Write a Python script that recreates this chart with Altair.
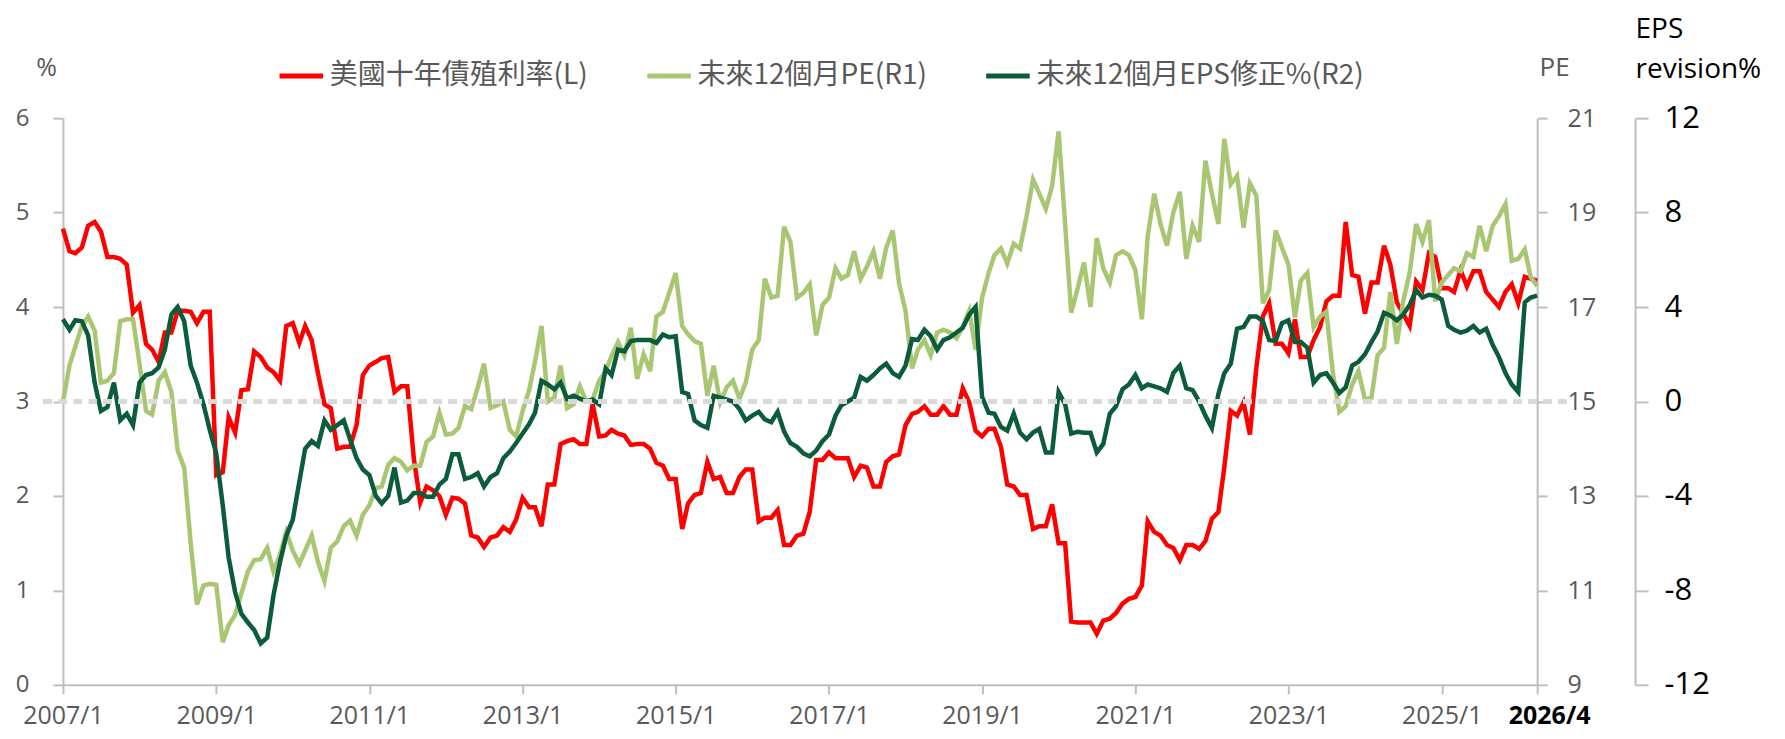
import altair as alt
import pandas as pd

# ---------------- data (monthly, 2007/1 .. 2026/4) ----------------
months = pd.date_range("2007-01-01", periods=232, freq="MS")

# US 10Y Treasury yield (%), left axis
yield_10y = [
    4.83, 4.59, 4.57, 4.63, 4.86, 4.90, 4.80, 4.53, 4.53, 4.51, 4.45, 3.94,
    4.02, 3.61, 3.55, 3.42, 3.73, 3.73, 3.96, 3.96, 3.95, 3.83, 3.95, 3.95,
    2.22, 2.25, 2.83, 2.67, 3.12, 3.13, 3.53, 3.47, 3.36, 3.31, 3.22, 3.80,
    3.83, 3.62, 3.80, 3.65, 3.30, 2.97, 2.93, 2.50, 2.52, 2.52, 2.75, 3.28,
    3.38, 3.42, 3.46, 3.47, 3.10, 3.16, 3.16, 2.40, 1.93, 2.10, 2.06, 2.00,
    1.80, 1.98, 1.97, 1.92, 1.58, 1.56, 1.46, 1.56, 1.58, 1.67, 1.62, 1.75,
    1.98, 1.88, 1.88, 1.68, 2.12, 2.12, 2.55, 2.58, 2.60, 2.55, 2.55, 2.97,
    2.63, 2.64, 2.70, 2.66, 2.64, 2.54, 2.55, 2.55, 2.50, 2.35, 2.32, 2.18,
    2.18, 1.65, 1.92, 2.01, 2.03, 2.36, 2.18, 2.20, 2.03, 2.03, 2.20, 2.28,
    2.28, 1.73, 1.77, 1.77, 1.85, 1.48, 1.48, 1.58, 1.60, 1.83, 2.38, 2.38,
    2.46, 2.40, 2.40, 2.40, 2.20, 2.32, 2.30, 2.10, 2.10, 2.36, 2.42, 2.44,
    2.75, 2.87, 2.89, 2.95, 2.86, 2.86, 2.95, 2.86, 2.86, 3.14, 2.99, 2.69,
    2.63, 2.71, 2.71, 2.52, 2.12, 2.10, 2.01, 2.01, 1.65, 1.68, 1.68, 1.91,
    1.50, 1.50, 0.67, 0.66, 0.66, 0.66, 0.54, 0.68, 0.70, 0.76, 0.86, 0.91,
    0.93, 1.05, 1.73, 1.62, 1.58, 1.48, 1.45, 1.32, 1.48, 1.48, 1.44, 1.52,
    1.76, 1.83, 2.30, 2.90, 2.85, 2.99, 2.65, 3.36, 3.90, 4.04, 3.61, 3.61,
    3.51, 3.87, 3.47, 3.47, 3.65, 3.79, 4.06, 4.12, 4.12, 4.90, 4.34, 4.32,
    3.93, 4.26, 4.26, 4.65, 4.45, 4.05, 3.93, 3.80, 4.27, 4.18, 4.57, 4.53,
    4.20, 4.20, 4.16, 4.39, 4.22, 4.38, 4.38, 4.16, 4.08, 4.00, 4.16, 4.24,
    4.04, 4.32, 4.30, 4.28,
]

# Forward 12M PE, right axis 1
pe_fwd = [
    15.00, 15.76, 16.16, 16.60, 16.80, 16.50, 15.40, 15.44, 15.60, 16.70, 16.74, 16.74,
    15.80, 14.80, 14.72, 15.44, 15.62, 15.20, 13.96, 13.60, 12.00, 10.70, 11.10, 11.14,
    11.12, 9.90, 10.26, 10.48, 10.94, 11.40, 11.64, 11.66, 11.90, 11.40, 11.76, 12.24,
    11.84, 11.56, 11.84, 12.16, 11.60, 11.20, 11.90, 12.04, 12.36, 12.48, 12.16, 12.60,
    12.80, 13.16, 13.20, 13.66, 13.80, 13.72, 13.54, 13.64, 13.64, 14.14, 14.26, 14.76,
    14.30, 14.32, 14.44, 14.90, 14.84, 15.30, 15.80, 14.86, 14.92, 15.00, 14.40, 14.26,
    14.80, 15.24, 15.84, 16.60, 15.00, 15.08, 15.76, 14.86, 14.94, 15.32, 15.00, 15.04,
    15.44, 15.64, 15.96, 16.26, 15.98, 16.56, 15.48, 16.00, 15.64, 16.80, 16.90, 17.30,
    17.72, 16.60, 16.42, 16.28, 16.22, 15.12, 15.76, 14.98, 15.30, 15.44, 15.06, 15.40,
    16.10, 16.30, 17.60, 17.20, 17.24, 18.70, 18.38, 17.20, 17.30, 17.48, 16.40, 17.04,
    17.20, 17.82, 17.60, 17.68, 18.18, 17.60, 17.86, 18.18, 17.60, 18.26, 18.62, 17.50,
    16.92, 15.70, 16.10, 16.30, 15.98, 16.46, 16.52, 16.46, 16.34, 16.58, 16.92, 16.10,
    17.20, 17.72, 18.10, 18.24, 17.92, 18.34, 18.24, 18.92, 19.70, 19.40, 19.08, 19.56,
    20.72, 18.76, 16.88, 17.40, 17.94, 17.00, 18.46, 17.82, 17.52, 18.10, 18.18, 18.10,
    17.78, 16.74, 18.50, 19.40, 18.76, 18.30, 19.00, 19.44, 18.02, 18.72, 18.38, 20.10,
    19.40, 18.76, 20.56, 19.60, 19.78, 18.68, 19.62, 19.36, 17.08, 17.36, 18.62, 18.26,
    17.90, 16.78, 17.56, 17.72, 16.58, 16.80, 16.90, 15.60, 14.78, 14.90, 15.36, 15.64,
    15.04, 15.08, 15.98, 16.14, 17.32, 16.22, 17.12, 17.72, 18.76, 18.38, 18.84, 17.12,
    17.52, 17.68, 17.82, 17.76, 18.14, 18.06, 18.72, 18.18, 18.72, 18.92, 19.18, 17.98,
    18.02, 18.22, 17.64, 17.44,
]

# Forward 12M EPS revision (%), right axis 2
eps_rev = [
    3.48, 3.04, 3.44, 3.40, 2.80, 0.80, -0.40, -0.24, 0.80, -0.80, -0.52, -1.00,
    0.80, 1.12, 1.20, 1.44, 2.20, 3.68, 4.00, 3.40, 1.52, 0.80, -0.12, -1.20,
    -2.20, -4.40, -6.60, -8.08, -9.00, -9.36, -9.68, -10.24, -10.00, -8.20, -6.80, -5.68,
    -5.00, -3.40, -2.00, -1.68, -1.88, -0.80, -1.20, -1.00, -0.80, -1.60, -2.40, -2.88,
    -3.12, -4.00, -4.32, -4.00, -2.80, -4.28, -4.20, -3.88, -3.88, -4.04, -4.04, -3.52,
    -3.28, -2.24, -2.24, -3.28, -3.20, -3.04, -3.60, -3.20, -3.04, -2.40, -2.12, -1.76,
    -1.36, -0.96, -0.48, 0.88, 0.72, 0.52, 0.80, 0.12, 0.24, 0.12, 0.00, 0.08,
    -0.12, 1.40, 1.12, 2.20, 2.12, 2.56, 2.60, 2.60, 2.60, 2.48, 2.84, 2.72,
    2.76, 0.40, 0.32, -0.80, -1.00, -1.12, 0.24, 0.16, 0.08, 0.00, -0.32, -0.80,
    -0.60, -0.44, -0.76, -0.88, -0.44, -1.28, -1.76, -1.92, -2.20, -2.32, -2.08, -1.68,
    -1.40, -0.60, -0.16, 0.00, 0.16, 1.04, 0.88, 1.12, 1.40, 1.60, 1.20, 1.04,
    1.52, 2.64, 2.60, 3.04, 2.76, 2.20, 2.60, 2.72, 2.92, 3.12, 3.68, 4.00,
    0.20, -0.48, -0.52, -1.08, -1.24, -0.52, -1.32, -1.60, -1.32, -1.16, -2.16, -2.16,
    0.40, -0.12, -1.36, -1.28, -1.32, -1.32, -2.16, -1.80, -0.52, -0.20, 0.52, 0.72,
    1.12, 0.56, 0.72, 0.64, 0.56, 0.40, 1.20, 1.52, 0.56, 0.48, 0.00, -0.60,
    -1.12, 0.32, 1.20, 1.60, 3.08, 3.16, 3.60, 3.60, 3.40, 2.60, 2.56, 3.32,
    3.44, 2.52, 2.52, 2.28, 0.80, 1.12, 1.20, 0.80, 0.36, 0.60, 1.52, 1.68,
    2.00, 2.52, 2.96, 3.76, 3.64, 3.44, 3.68, 4.08, 4.72, 4.40, 4.52, 4.48,
    4.32, 3.20, 3.04, 2.92, 3.00, 3.20, 2.92, 3.08, 2.40, 1.88, 1.20, 0.72,
    0.40, 4.20, 4.40, 4.48,
]

series_names = ["美國十年債殖利率(L)", "未來12個月PE(R1)", "未來12個月EPS修正%(R2)"]
series_colors = ["#FF0000", "#A9C673", "#0B5C3B"]

x_tick_dates = [alt.DateTime(year=y, month=1, date=1) for y in range(2007, 2026, 2)] + [
    alt.DateTime(year=2026, month=4, date=1)
]
pe_ticks = [9, 11, 13, 15, 17, 19, 21]
eps_ticks = [-12, -8, -4, 0, 4, 8, 12]
pct_ticks = [0, 1, 2, 3, 4, 5, 6]

df = pd.DataFrame({"date": months, "yield": yield_10y, "pe": pe_fwd, "eps": eps_rev})

W, H = 1475, 567
GRAY_AX = "#BFBFBF"
GRAY_TX = "#595959"
NUM_FONT = "Open Sans"
CJK_FONT = "Noto Sans CJK TC"

color_scale = alt.Scale(domain=series_names, range=series_colors)
legend = alt.Legend(
    title=None, orient="none", legendX=214, legendY=-67, direction="horizontal",
    symbolType="stroke", symbolStrokeWidth=5, symbolSize=1900,
    labelFont=CJK_FONT, labelFontSize=28, labelColor=GRAY_TX, labelLimit=0,
    columnPadding=48, labelOffset=4,
)

x_enc = alt.X(
    "date:T",
    scale=alt.Scale(domain=[alt.DateTime(year=2007, month=1, date=1),
                            alt.DateTime(year=2026, month=4, date=1)]),
    axis=alt.Axis(
        values=x_tick_dates, title=None, grid=False,
        labelExpr="timeFormat(datum.value, '%Y') + '/' + (month(datum.value) + 1)",
        labelFont=NUM_FONT, labelFontSize=25,
        labelColor={"condition": {"test": "year(datum.value) == 2026", "value": "#000000"}, "value": GRAY_TX},
        labelFontWeight={"condition": {"test": "year(datum.value) == 2026", "value": "bold"}, "value": "normal"},
        labelOffset={"condition": {"test": "year(datum.value) == 2026", "value": 12}, "value": 0},
        labelPadding=10, tickSize=9, tickColor=GRAY_AX, tickWidth=2,
        domainColor=GRAY_AX, domainWidth=2, labelFlush=False, labelOverlap=False,
    ),
)

base = alt.Chart(df)

red = base.transform_calculate(series=f"'{series_names[0]}'").mark_line(strokeWidth=4.5).encode(
    x=x_enc,
    y=alt.Y("yield:Q", scale=alt.Scale(domain=[0, 6], nice=False, zero=False),
            axis=alt.Axis(orient="left", values=pct_ticks, grid=False, title="%",
                          titleAngle=0, titleX=-17, titleY=-51, titleAlign="center",
                          titleBaseline="middle", titleFont=NUM_FONT, titleFontSize=25,
                          titleFontWeight="normal", titleColor=GRAY_TX,
                          labelFont=NUM_FONT, labelFontSize=24, labelColor=GRAY_TX,
                          labelPadding=24, tickSize=10, tickColor=GRAY_AX, tickWidth=2,
                          domainColor=GRAY_AX, domainWidth=2)),
    color=alt.Color("series:N", scale=color_scale, legend=legend),
)

pe = base.transform_calculate(series=f"'{series_names[1]}'").mark_line(strokeWidth=4.5).encode(
    x=x_enc,
    y=alt.Y("pe:Q", scale=alt.Scale(domain=[9, 21], nice=False, zero=False),
            axis=alt.Axis(orient="right", values=pe_ticks, grid=False, title="PE",
                          titleAngle=0, titleX=17, titleY=-51, titleAlign="center",
                          titleBaseline="middle", titleFont=NUM_FONT, titleFontSize=26,
                          titleFontWeight="normal", titleColor=GRAY_TX,
                          labelFont=NUM_FONT, labelFontSize=25, labelColor=GRAY_TX,
                          labelPadding=20, tickSize=10, tickColor=GRAY_AX, tickWidth=2,
                          domainColor=GRAY_AX, domainWidth=2)),
    color=alt.Color("series:N", scale=color_scale, legend=legend),
)

eps_line = base.transform_calculate(series=f"'{series_names[2]}'").mark_line(strokeWidth=4.5).encode(
    x=x_enc,
    y=alt.Y("eps:Q", scale=alt.Scale(domain=[-12, 12], nice=False, zero=False),
            axis=alt.Axis(orient="right", offset=98, values=eps_ticks, grid=False,
                          labelExpr="datum.value < 0 ? '-' + abs(datum.value) : '' + datum.value",
                          title=["EPS", "revision%"], titleAngle=0, titleX=0, titleY=-89,
                          titleAlign="left", titleBaseline="middle", titleLineHeight=40,
                          titleFont=NUM_FONT, titleFontSize=28, titleFontWeight="normal",
                          titleColor="#000000",
                          labelFont=NUM_FONT, labelFontSize=31, labelColor="#000000",
                          labelPadding=16, tickSize=13, tickColor=GRAY_AX, tickWidth=2,
                          domainColor=GRAY_AX, domainWidth=2)),
    color=alt.Color("series:N", scale=color_scale, legend=legend),
)

zero_rule = base.mark_rule(strokeDash=[8, 7], strokeWidth=5, color="#D9D9D9").encode(
    y=alt.YDatum(0),
    x=alt.value(-19),
    x2=alt.value(W + 30),
)

eps_layer = alt.layer(eps_line, zero_rule)

chart = (
    alt.layer(red, pe, eps_layer)
    .resolve_scale(y="independent")
    .properties(
        width=W, height=H,
        autosize=alt.AutoSizeParams(type="none"),
        padding={"left": 55, "top": 110, "right": 240, "bottom": 46},
    )
    .configure_view(stroke=None)
)

chart.save("out.html", embed_options={"renderer": "svg", "actions": False})
